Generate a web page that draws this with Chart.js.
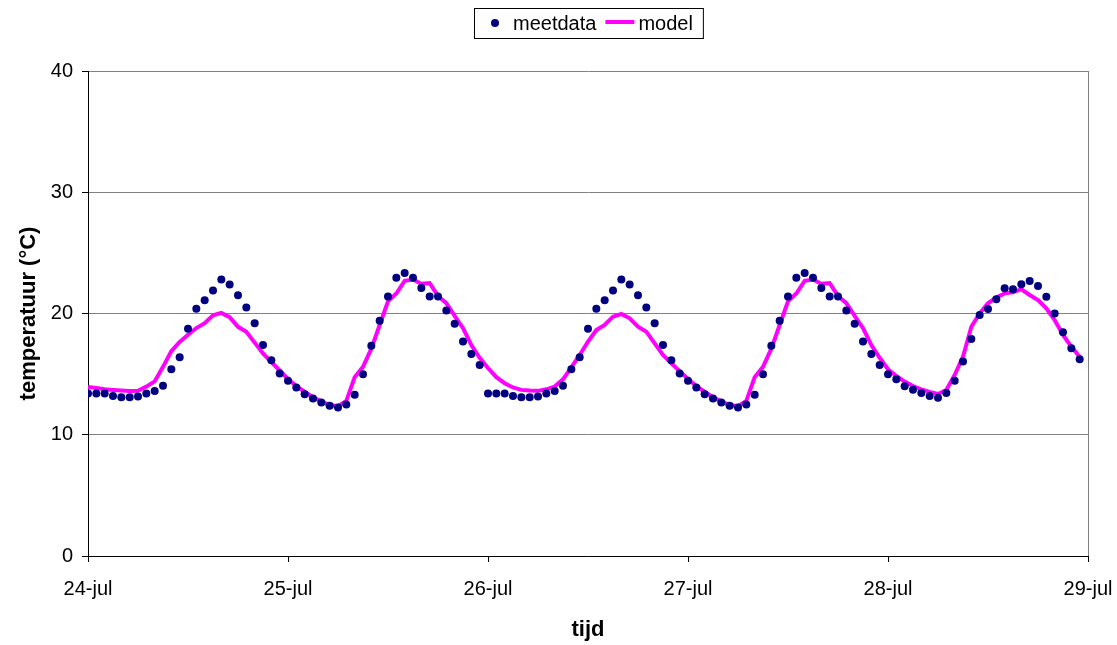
<!DOCTYPE html>
<html>
<head>
<meta charset="utf-8">
<script src="https://cdn.jsdelivr.net/npm/chart.js@4"></script>
<style>
  html, body { margin: 0; padding: 0; background: #fff; }
  #wrap { width: 1117px; height: 645px; }
</style>
</head>
<body>
<div id="wrap"><canvas id="chart" width="1117" height="645"></canvas></div>
<script>
"use strict";
// hourly values, one array per day (24-jul .. 28-jul)
const dayLabels = ['24-jul', '25-jul', '26-jul', '27-jul', '28-jul', '29-jul'];
const yTicks = [0, 10, 20, 30, 40];

const meetDag1 = [13.4, 13.4, 13.4, 13.2, 13.1, 13.1, 13.15, 13.4, 13.6, 14.05, 15.4, 16.4, 18.75, 20.4, 21.1, 21.9, 22.8, 22.4, 21.5, 20.5, 19.2, 17.4, 16.15, 15.05];
const meetDag2 = [14.45, 13.9, 13.35, 13.0, 12.65, 12.4, 12.25, 12.5, 13.3, 15.0, 17.35, 19.4, 21.4, 22.95, 23.35, 22.95, 22.1, 21.4, 21.4, 20.25, 19.15, 17.7, 16.65, 15.75];
const meetDag3 = [13.4, 13.4, 13.4, 13.2, 13.1, 13.1, 13.15, 13.4, 13.6, 14.05, 15.4, 16.4, 18.75, 20.4, 21.1, 21.9, 22.8, 22.4, 21.5, 20.5, 19.2, 17.4, 16.15, 15.05];
const meetDag4 = [14.45, 13.9, 13.35, 13.0, 12.65, 12.4, 12.25, 12.5, 13.3, 15.0, 17.35, 19.4, 21.4, 22.95, 23.35, 22.95, 22.1, 21.4, 21.4, 20.25, 19.15, 17.7, 16.65, 15.75];
const meetDag5 = [15.0, 14.57, 14.0, 13.72, 13.45, 13.2, 13.05, 13.44, 14.46, 16.05, 17.9, 19.88, 20.37, 21.17, 22.08, 22.0, 22.41, 22.68, 22.27, 21.39, 20.01, 18.45, 17.13, 16.22];

const modelDag1 = [13.95, 13.85, 13.75, 13.7, 13.65, 13.6, 13.62, 13.97, 14.4, 15.6, 16.9, 17.65, 18.25, 18.8, 19.2, 19.85, 20.05, 19.7, 18.9, 18.5, 17.6, 16.7, 16.0, 15.3];
const modelDag2 = [14.6, 14.0, 13.55, 13.1, 12.75, 12.45, 12.35, 12.8, 14.75, 15.6, 17.1, 19.05, 21.0, 21.65, 22.7, 22.8, 22.45, 22.5, 21.45, 20.85, 19.8, 18.8, 17.4, 16.35];
const modelDag3 = [15.5, 14.75, 14.25, 13.9, 13.7, 13.64, 13.62, 13.75, 13.97, 14.57, 15.56, 16.58, 17.68, 18.64, 19.05, 19.74, 19.96, 19.6, 18.91, 18.5, 17.54, 16.58, 15.9, 15.25];
const modelDag4 = [14.6, 14.0, 13.55, 13.1, 12.75, 12.45, 12.35, 12.8, 14.75, 15.6, 17.1, 19.05, 21.0, 21.65, 22.7, 22.8, 22.45, 22.5, 21.45, 20.85, 19.8, 18.8, 17.4, 16.35];
const modelDag5 = [15.4, 14.85, 14.38, 14.02, 13.75, 13.53, 13.36, 13.69, 14.93, 16.44, 18.91, 20.01, 20.84, 21.33, 21.66, 21.74, 22.0, 21.53, 21.11, 20.43, 19.46, 18.23, 17.26, 16.44];

const meetdata = [...meetDag1, ...meetDag2, ...meetDag3, ...meetDag4, ...meetDag5];
const model = [...modelDag1, ...modelDag2, ...modelDag3, ...modelDag4, ...modelDag5];

const toPoints = arr => arr.map((v, i) => ({ x: i, y: v }));

const FONT = 'Liberation Sans, Arial, sans-serif';

// legend with a border, as in the original
const boxLegend = {
    id: 'boxLegend',
    afterDraw(chart) {
        const ctx = chart.ctx;
        const ds = chart.data.datasets;
        ctx.save();
        ctx.font = '20px ' + FONT;
        const w1 = ctx.measureText(ds[0].label).width;
        const w2 = ctx.measureText(ds[1].label).width;
        const boxW = 39 + w1 + 9 + 33 + w2 + 10;
        const cx = (chart.chartArea.left + chart.chartArea.right) / 2;
        const left = Math.round(cx - boxW / 2);
        const top = 8, h = 30, mid = top + h / 2;
        ctx.strokeStyle = '#000';
        ctx.lineWidth = 1;
        ctx.strokeRect(left + 0.5, top + 0.5, boxW, h);
        let x = left + 21;
        ctx.fillStyle = ds[0].backgroundColor;
        ctx.beginPath();
        ctx.arc(x, mid, 4, 0, Math.PI * 2);
        ctx.fill();
        x = left + 39;
        ctx.fillStyle = '#000';
        ctx.textBaseline = 'middle';
        ctx.fillText(ds[0].label, x, mid + 1);
        x += w1 + 9;
        ctx.strokeStyle = ds[1].borderColor;
        ctx.lineWidth = 4;
        ctx.beginPath();
        ctx.moveTo(x, mid - 1);
        ctx.lineTo(x + 29, mid - 1);
        ctx.stroke();
        x += 33;
        ctx.fillText(ds[1].label, x, mid + 1);
        ctx.restore();
    }
};

const ctx = document.getElementById('chart').getContext('2d');

new Chart(ctx, {
    type: 'scatter',
    data: {
        datasets: [
            {
                label: 'meetdata',
                data: toPoints(meetdata),
                backgroundColor: '#000080',
                borderColor: '#000080',
                pointRadius: 4,
                pointBorderWidth: 0,
                showLine: false
            },
            {
                label: 'model',
                data: toPoints(model),
                borderColor: '#FF00FF',
                backgroundColor: '#FF00FF',
                borderWidth: 4,
                pointRadius: 0,
                showLine: true,
                tension: 0
            }
        ]
    },
    options: {
        responsive: false,
        animation: false,
        layout: { padding: { top: 71, right: 29, left: 0, bottom: 0 } },
        plugins: {
            legend: { display: false },
            tooltip: { enabled: false }
        },
        scales: {
            x: {
                type: 'linear',
                min: 0,
                max: 120,
                afterBuildTicks: scale => {
                    scale.ticks = dayLabels.map((d, i) => ({ value: i * 24 }));
                },
                afterFit: scale => {
                    scale.height = 89;
                    scale.paddingLeft = 0;
                    scale.paddingRight = 0;
                },
                ticks: {
                    color: '#000',
                    padding: 15,
                    maxRotation: 0,
                    font: { family: FONT, size: 20 },
                    callback: v => dayLabels[v / 24]
                },
                grid: {
                    color: c => (c.tick && c.tick.value === 120 ? '#808080' : 'rgba(0,0,0,0)'),
                    tickColor: '#000',
                    tickLength: 6
                },
                border: { color: '#000', width: 1 },
                title: {
                    display: true,
                    text: 'tijd',
                    color: '#000',
                    font: { family: FONT, size: 22, weight: 'bold' },
                    padding: { top: 0, bottom: 2 }
                }
            },
            y: {
                min: 0,
                max: 40,
                afterBuildTicks: scale => {
                    scale.ticks = yTicks.map(v => ({ value: v }));
                },
                afterFit: scale => {
                    scale.width = 88;
                    scale.paddingTop = 0;
                    scale.paddingBottom = 0;
                },
                ticks: {
                    color: '#000',
                    padding: 9,
                    font: { family: FONT, size: 20 }
                },
                grid: {
                    color: '#808080',
                    tickColor: '#000',
                    tickLength: 6
                },
                border: { color: '#000', width: 1 },
                title: {
                    display: true,
                    text: 'temperatuur (°C)',
                    color: '#000',
                    font: { family: FONT, size: 22, weight: 'bold' },
                    padding: { top: 16, bottom: 0 }
                }
            }
        }
    },
    plugins: [boxLegend]
});
</script>
</body>
</html>
